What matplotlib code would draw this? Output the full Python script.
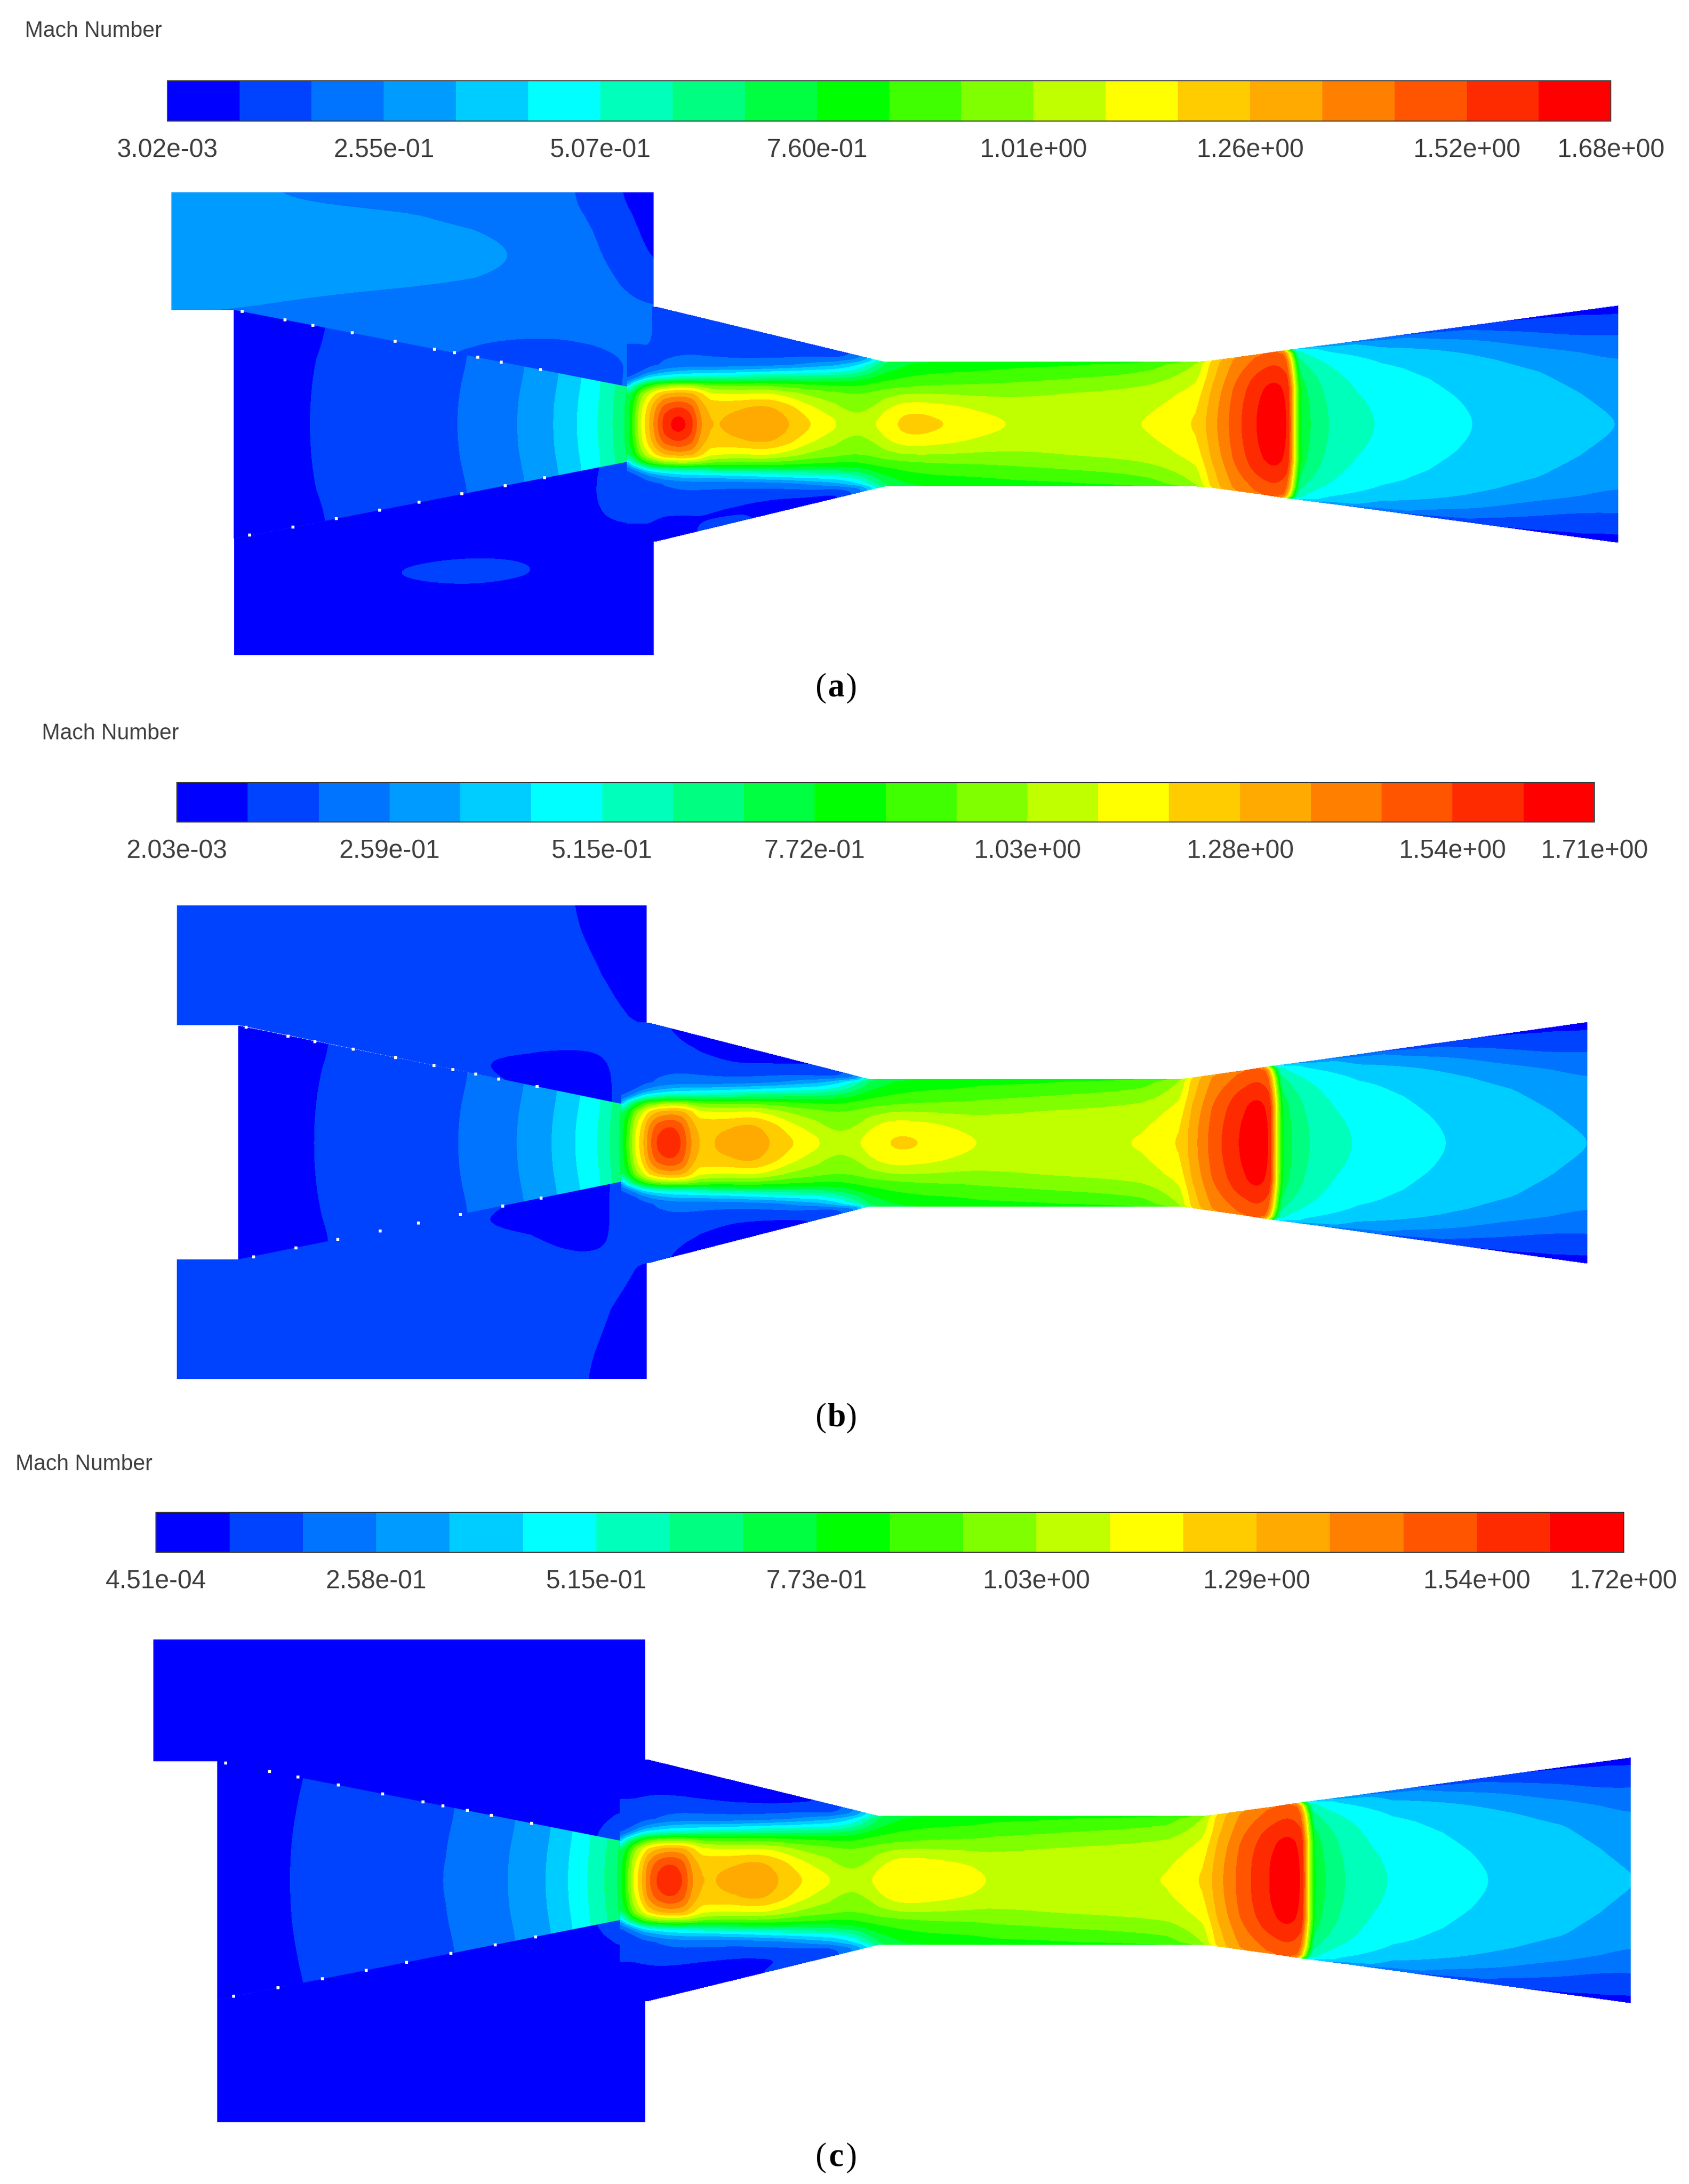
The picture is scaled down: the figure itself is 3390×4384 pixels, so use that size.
import numpy as np
import matplotlib
matplotlib.use('Agg')
import matplotlib.pyplot as plt
from matplotlib.colors import ListedColormap, BoundaryNorm
from matplotlib.cm import ScalarMappable
from matplotlib.patches import Polygon

BAND_COLORS = ['#0000ff', '#0043ff', '#0073ff', '#009bff', '#00cdff', '#00ffff', '#00ffbb', '#00ff80',
               '#00ff40', '#00ff00', '#40ff00', '#80ff00', '#bfff00', '#ffff00', '#ffcc00', '#ffaa00',
               '#ff8000', '#ff5500', '#ff2b00', '#ff0000']
TICK_BANDS = [0, 3, 6, 9, 12, 15, 18, 20]

TICKS_A = ['3.02e-03', '2.55e-01', '5.07e-01', '7.60e-01', '1.01e+00', '1.26e+00', '1.52e+00', '1.68e+00']
TICKS_B = ['2.03e-03', '2.59e-01', '5.15e-01', '7.72e-01', '1.03e+00', '1.28e+00', '1.54e+00', '1.71e+00']
TICKS_C = ['4.51e-04', '2.58e-01', '5.15e-01', '7.73e-01', '1.03e+00', '1.29e+00', '1.54e+00', '1.72e+00']
RANGE_A = (3.02e-03, 1.68)
RANGE_B = (2.03e-03, 1.71)
RANGE_C = (4.51e-04, 1.72)

# jet stations along the duct, exit of the nozzle to the outlet
STATIONS_A = [450, 455, 460, 465, 471, 477, 487, 496, 502, 510, 532, 546, 560, 578, 599, 608, 617, 626, 635,
              650, 670, 700, 731, 780, 824, 858, 870, 885, 905, 921, 926, 931, 960, 991, 1053, 1110, 1161]
STATIONS_B = [446, 451, 456, 461, 466, 472, 481, 489, 495, 502, 524, 537, 549, 566, 587, 596, 605, 615, 624,
              640, 660, 685, 707, 760, 819, 846, 856, 870, 893, 908, 913, 918, 946, 974, 1033, 1090, 1139]
STATIONS_C = [445, 450, 455, 460, 465, 472, 481, 490, 496, 504, 528, 541, 555, 573, 595, 604, 613, 622, 631,
              646, 667, 697, 714, 770, 837, 863, 874, 890, 914, 931, 936, 941, 972, 999, 1062, 1125, 1170]

# Mach on the axis
AXIS_A = [.70, .90, 1.12, 1.24, 1.42, 1.58, 1.70, 1.58, 1.38, 1.24, 1.30, 1.37, 1.31, 1.22, 1.12, 1.07, 1.05, 1.11,
          1.15, 1.23, 1.22, 1.14, 1.09, 1.06, 1.10, 1.19, 1.31, 1.46, 1.64, 1.67, 1.10, .70, .55, .507, .423, .385, .335]
AXIS_B = [.71, .92, 1.14, 1.26, 1.44, 1.58, 1.63, 1.56, 1.40, 1.26, 1.31, 1.35, 1.31, 1.24, 1.14, 1.09, 1.07, 1.13,
          1.17, 1.22, 1.22, 1.16, 1.11, 1.08, 1.12, 1.21, 1.33, 1.49, 1.67, 1.70, 1.12, .71, .56, .516, .431, .392, .341]
AXIS_C = [.71, .92, 1.15, 1.27, 1.45, 1.59, 1.64, 1.57, 1.41, 1.27, 1.32, 1.37, 1.32, 1.24, 1.14, 1.09, 1.07, 1.13,
          1.16, 1.21, 1.22, 1.16, 1.11, 1.08, 1.12, 1.22, 1.34, 1.49, 1.67, 1.71, 1.13, .72, .56, .519, .433, .394, .343]

# Mach off the axis, one line per station: r12, r22, r28, r33, r38, r43, mid, wall
OFF_AXIS = [
    [.70, .68, .30, .15, .13, .13, .12, .10],
    [.86, .78, .55, .20, .13, .13, .12, .10],
    [1.08, .98, .70, .30, .15, .13, .12, .10],
    [1.20, 1.08, .82, .42, .20, .14, .12, .10],
    [1.36, 1.20, .90, .48, .25, .15, .12, .10],
    [1.48, 1.27, .96, .50, .30, .17, .12, .09],
    [1.54, 1.31, 1.00, .55, .34, .19, .11, .08],
    [1.47, 1.29, .99, .55, .36, .20, .11, .07],
    [1.32, 1.23, .96, .56, .36, .20, .11, .07],
    [1.23, 1.10, .92, .58, .36, .20, .11, .07],
    [1.27, 1.08, .90, .62, .38, .20, .10, .06],
    [1.30, 1.10, .91, .64, .40, .21, .09, .06],
    [1.26, 1.08, .89, .65, .42, .22, .10, .07],
    [1.13, .99, .86, .66, .44, .26, .12, .08],
    [1.02, .95, .83, .68, .47, .32, .15, .10],
    [.99, .93, .83, .70, .50, .36, .22, .12],
    [.98, .93, .83, .72, .56, .42, .30, .20],
    [1.00, .94, .86, .77, .66, .55, .45, .40],
    [1.07, .97, .88, .81, .74, .68, .68, .68],
    [1.16, 1.00, .90, .85, .80, .75, .74, .72],
    [1.14, 1.00, .92, .87, .83, .79, .78, .76],
    [1.08, .99, .93, .88, .84, .80, .79, .77],
    [1.05, .99, .94, .90, .86, .82, .81, .79],
    [1.05, 1.02, .97, .93, .88, .83, .82, .80],
    [1.07, 1.04, 1.00, .96, .92, .87, .85, .83],
    [1.16, 1.12, 1.09, 1.06, 1.03, 1.00, .98, .95],
    [1.30, 1.28, 1.26, 1.24, 1.23, 1.21, 1.20, 1.19],
    [1.45, 1.43, 1.41, 1.39, 1.37, 1.35, 1.34, 1.33],
    [1.63, 1.61, 1.58, 1.54, 1.49, 1.45, 1.44, 1.43],
    [1.66, 1.64, 1.60, 1.56, 1.52, 1.49, 1.47, 1.46],
    [1.10, 1.10, 1.10, 1.10, 1.08, 1.05, 1.00, .95],
    [.69, .67, .64, .60, .55, .47, .43, .38],
    [.54, .52, .50, .475, .44, .36, .30, .25],
    [.49, .46, .44, .42, .37, .30, .24, .18],
    [.41, .39, .37, .335, .27, .15, .12, .09],
    [.37, .335, .29, .22, .15, .09, .085, .07],
    [.31, .257, .22, .168, .11, .07, .065, .05],
]
ROW_ETA = [.27, .49, .63, .74, .85, .96]
SHOCK_BOW = [3, 3, 3, 2.5, 2, 1.5, 0, -1, -2]

# blue outer rows of the converging part differ per case
OUTER_X = [0, 15, 25, 50, 80, 110, 150, 175]
OUTER_UP_MID_A = [.19, .19, .13, .12, .10, .11, .15, .35]
OUTER_UP_WALL_A = [.19, .19, .12, .11, .11, .09, .07, .30]
OUTER_DN_MID_A = [.11, .11, .09, .08, .07, .07, .10, .30]
OUTER_DN_WALL_A = [.05, .05, .05, .09, .10, .07, .06, .30]
OUTER_UP_MID_B = [.13, .13, .12, .10, .07, .09, .13, .35]
OUTER_UP_WALL_B = [.13, .12, .09, .07, .06, .07, .09, .30]
OUTER_DN_MID_B = [.13, .13, .12, .10, .07, .08, .12, .35]
OUTER_DN_WALL_B = [.12, .11, .09, .07, .06, .06, .10, .30]
OUTER_UP_MID_C = [.06, .06, .06, .055, .05, .07, .12, .35]
OUTER_UP_WALL_C = [.05, .05, .05, .05, .05, .06, .09, .30]
OUTER_DN_MID_C = [.06, .06, .06, .055, .05, .07, .12, .35]
OUTER_DN_WALL_C = [.05, .05, .05, .05, .06, .10, .12, .30]

# primary cone
PRIMARY_X_A = [168, 227, 328, 371, 397, 414, 430, 445, 450]
PRIMARY_X_B = [171, 231, 329, 371, 396, 413, 430, 442, 446]
PRIMARY_X_C = [156, 215, 320, 365, 392, 408, 423, 440, 445]
PRIMARY_AXIS = [.04, .087, .171, .255, .339, .423, .507, .64, .70]
PRIMARY_MID = [.04, .084, .167, .250, .334, .418, .503, .635, .70]
PRIMARY_WALL = [.04, .075, .155, .235, .315, .40, .49, .62, .68]

# secondary stream, case a
UP_X_A = [123, 170, 230, 290, 340, 370, 400, 425, 445, 469]
UP_Y_A = [138, 155, 180, 200, 222, 240, 255, 270, 280]
UP_MACH_A = [
    [.28, .265, .235, .22, .21, .20, .19, .15, .083, .05],
    [.29, .285, .275, .262, .235, .21, .19, .165, .10, .06],
    [.30, .30, .295, .29, .285, .26, .22, .19, .13, .07],
    [.29, .285, .28, .27, .258, .235, .21, .20, .171, .087],
    [.26, .255, .235, .22, .21, .20, .19, .19, .20, .19],
    [.22, .22, .22, .20, .19, .18, .18, .19, .20, .19],
    [.20, .20, .20, .20, .15, .14, .14, .15, .17, .18],
    [.20, .20, .20, .20, .15, .14, .15, .16, .17, .18],
    [.20, .20, .20, .20, .15, .14, .15, .16, .17, .18],
]
DN_X_A = [168, 243, 287, 335, 382, 420, 435, 455, 469]
DN_Y_A = [330, 345, 360, 375, 390, 400, 412, 425, 470]
DN_MACH_A = [
    [.05, .05, .05, .05, .05, .05, .10, .12, .10],
    [.05, .05, .05, .05, .05, .06, .11, .12, .10],
    [.05, .05, .05, .05, .05, .06, .11, .12, .09],
    [.05, .05, .05, .05, .05, .05, .08, .095, .07],
    [.05, .05, .05, .05, .05, .05, .05, .05, .05],
    [.05, .05, .07, .09, .085, .05, .05, .05, .05],
    [.05, .05, .10, .11, .095, .05, .05, .05, .05],
    [.05, .05, .06, .075, .055, .05, .05, .05, .05],
    [.05, .05, .05, .05, .05, .05, .05, .05, .05],
]

# secondary stream, case b
UP_X_B = [127, 314, 380, 409, 427, 446, 464]
UP_Y_B = [650, 700, 730, 745, 760, 775, 792]
UP_MACH_B = [
    [.13, .13, .12, .09, .05, .05, .05],
    [.13, .13, .13, .12, .10, .06, .05],
    [.13, .13, .13, .13, .12, .095, .07],
    [.13, .12, .12, .12, .12, .12, .10],
    [.13, .10, .07, .06, .07, .11, .13],
    [.13, .12, .07, .05, .05, .11, .12],
    [.13, .13, .10, .06, .05, .11, .11],
]
DN_X_B = [127, 314, 380, 409, 427, 446, 464]
DN_Y_B = [848, 865, 880, 895, 910, 940, 990]
DN_MACH_B = [
    [.13, .13, .11, .06, .06, .11, .11],
    [.13, .12, .07, .05, .06, .11, .12],
    [.13, .10, .07, .05, .06, .11, .12],
    [.13, .13, .11, .07, .07, .11, .12],
    [.13, .13, .13, .13, .13, .11, .07],
    [.13, .13, .13, .13, .11, .07, .05],
    [.13, .13, .13, .11, .07, .05, .05],
]

# secondary stream, case c
UP_X_C = [110, 400, 438, 463]
UP_Y_C = [1177, 1290, 1303, 1322]
UP_MACH_C = [
    [.04, .04, .04, .04],
    [.04, .04, .04, .05],
    [.04, .04, .09, .11],
    [.04, .04, .11, .13],
]
DN_X_C = [110, 400, 438, 463]
DN_Y_C = [1378, 1395, 1410, 1524]
DN_MACH_C = [
    [.04, .04, .11, .13],
    [.04, .04, .09, .11],
    [.04, .04, .04, .05],
    [.04, .04, .04, .04],
]

# white specks along the nozzle walls, fraction of the wall length
SPECKS_UP = [.02, .13, .20, .30, .41, .51, .56, .62, .68, .78]
SPECKS_DN = [.04, .15, .26, .37, .47, .58, .69, .79]

W, H = 1212, 1568
fig = plt.figure(figsize=(33.9, 43.84), dpi=100)
ax = fig.add_axes([0, 0, 1, 1])
ax.set_xlim(0, W)
ax.set_ylim(H, 0)
ax.axis('off')


def fine(a, n=8):
    a = np.asarray(a, dtype=float)
    ri = np.linspace(0, a.shape[0] - 1, (a.shape[0] - 1) * n + 1)
    ci = np.linspace(0, a.shape[1] - 1, (a.shape[1] - 1) * n + 1)
    a = np.array([np.interp(ci, np.arange(a.shape[1]), row) for row in a])
    return np.array([np.interp(ri, np.arange(len(col)), col) for col in a.T]).T


def soften(a, w=3, passes=2):
    for _ in range(passes):
        p = np.pad(a, w, mode='edge')
        k = np.ones(2 * w + 1) / (2 * w + 1)
        p = np.apply_along_axis(lambda m: np.convolve(m, k, mode='same'), 0, p)
        p = np.apply_along_axis(lambda m: np.convolve(m, k, mode='same'), 1, p)
        a = p[w:-w, w:-w]
    return a


def fill(X, Y, Z, cmap, norm, levels, clip=None):
    cs = ax.contourf(fine(X), fine(Y), soften(fine(Z)), levels=levels, cmap=cmap, norm=norm,
                     extend='both', antialiased=False)
    if clip is not None:
        patch = Polygon(clip, closed=True, transform=ax.transData, fill=False, edgecolor='none')
        ax.add_patch(patch)
        cs.set_clip_path(patch)


def draw_panel(p):
    vmin, vmax = p['range']
    levels = np.linspace(vmin, vmax, 21)
    cmap = ListedColormap(BAND_COLORS)
    cmap.set_under(BAND_COLORS[0])
    cmap.set_over(BAND_COLORS[-1])
    norm = BoundaryNorm(levels, 20)
    ratio = vmax / RANGE_A[1]

    # title and colour bar, the bar keeps its own norm so contourf does not reset its ticks
    ax.text(p['title'][0], p['title'][1] + 1.5, 'Mach Number', family='Liberation Sans', fontsize=31.5,
            color='#3f3f3f', ha='left', va='center')
    bx0, bx1, by0, by1 = p['bar']
    cax = fig.add_axes([bx0 / W, 1 - by1 / H, (bx1 - bx0) / W, (by1 - by0) / H])
    cb = fig.colorbar(ScalarMappable(norm=BoundaryNorm(levels, 20), cmap=cmap), cax=cax,
                      orientation='horizontal', spacing='uniform')
    cb.set_ticks(levels[TICK_BANDS], labels=p['ticks'])
    cb.minorticks_off()
    cax.tick_params(axis='x', length=0, pad=25, labelsize=37, labelcolor='#3f3f3f',
                    labelfontfamily='Liberation Sans')
    cb.outline.set_edgecolor('#404040')
    cb.outline.set_linewidth(1.5)

    # geometry
    yc = p['yc']
    xe, xb, xt, xd, xo = p['xe'], p['xb'], p['xt'], p['xd'], p['xo']
    hb, ht, ho = p['hb'], p['ht'], p['ho']
    xl, he, hl = p['cone']

    # primary cone
    px = np.array(p['primary_x'], dtype=float)
    ph = np.interp(px, [xl, xe], [hl, he])
    rows = [-1, -.5, 0, .5, 1]
    PX = np.array([px for _ in rows])
    PY = np.array([yc + e * ph for e in rows])
    PZ = np.array([PRIMARY_WALL, PRIMARY_MID, PRIMARY_AXIS, PRIMARY_MID, PRIMARY_WALL]) * ratio
    fill(PX, PY, PZ, cmap, norm, levels)

    # secondary stream
    for x_, y_, z_, clip in (p['upper'], p['lower']):
        XX, YY = np.meshgrid(x_, y_)
        fill(XX, YY, np.array(z_), cmap, norm, levels, clip)

    # jet through the duct
    st = np.array(p['stations'], dtype=float)
    h = np.interp(st, [xb, xt, xd, xo], [hb, ht, ht, ho])
    grow = np.where(st > xd, h / ht, 1.0)
    off = np.array(OFF_AXIS) * ratio
    up = off.copy()
    dn = off.copy()
    near = st - st[0] < OUTER_X[-1]
    up[near, 6] = np.interp(st[near] - st[0], OUTER_X, p['out_up_mid'])
    up[near, 7] = np.interp(st[near] - st[0], OUTER_X, p['out_up_wall'])
    dn[near, 6] = np.interp(st[near] - st[0], OUTER_X, p['out_dn_mid'])
    dn[near, 7] = np.interp(st[near] - st[0], OUTER_X, p['out_dn_wall'])
    radii = [np.array(e) * ht * grow for e in ROW_ETA]
    radii.append((radii[-1] + h) / 2)
    radii.append(h)
    axis = np.array(p['axis'])

    ys = [yc - r for r in reversed(radii)] + [yc + 0 * st] + [yc + r for r in radii]
    zs = [up[:, i] for i in range(7, -1, -1)] + [axis] + [dn[:, i] for i in range(8)]
    bow = np.zeros((17, len(st)))
    rows_bow = list(reversed(SHOCK_BOW[1:])) + SHOCK_BOW
    for i in (29, 30, 31):
        bow[:, i] = rows_bow
    xs = np.array([st for _ in ys]) + bow
    fill(xs, np.array(ys), np.array(zs), cmap, norm, levels)

    # white specks on the nozzle walls
    sx = xl + np.array(SPECKS_UP) * (xe - xl)
    sy = yc - np.interp(sx, [xl, xe], [hl, he])
    ax.scatter(sx, sy, s=16, c='white', marker='s', linewidths=0, zorder=5)
    sx = xl + np.array(SPECKS_DN) * (xe - xl)
    sy = yc + np.interp(sx, [xl, xe], [hl, he])
    ax.scatter(sx, sy, s=16, c='white', marker='s', linewidths=0, zorder=5)

    # caption
    cx, cy = p['caption']
    ax.text(cx - 7, cy, '(', family='Liberation Serif', fontsize=48, ha='right', va='center', color='black')
    ax.text(cx, cy, p['letter'], family='Liberation Serif', fontsize=48, weight='bold', ha='center', va='center',
            color='black')
    ax.text(cx + 7, cy, ')', family='Liberation Serif', fontsize=48, ha='left', va='center', color='black')


panels = [
    dict(range=RANGE_A, ticks=TICKS_A, title=(18, 21), bar=(120, 1156, 58, 87), letter='a', caption=(600, 494),
         yc=304.5, xe=450, xb=469, xt=635, xd=862, xo=1161.5, hb=84.5, ht=44.5, ho=85, cone=(168, 27, 82),
         primary_x=PRIMARY_X_A, stations=STATIONS_A, axis=AXIS_A,
         out_up_mid=OUTER_UP_MID_A, out_up_wall=OUTER_UP_WALL_A, out_dn_mid=OUTER_DN_MID_A, out_dn_wall=OUTER_DN_WALL_A,
         upper=(UP_X_A, UP_Y_A, UP_MACH_A, [(123, 138), (469, 138), (469, 277.5), (450, 277.5), (168, 222.5), (123, 222.5)]),
         lower=(DN_X_A, DN_Y_A, DN_MACH_A, [(450, 331.5), (469, 331.5), (469, 470.5), (168, 470.5), (168, 386.5)])),
    dict(range=RANGE_B, ticks=TICKS_B, title=(30, 525), bar=(127, 1144, 562, 590), letter='b', caption=(600, 1018),
         yc=820.5, xe=446, xb=464, xt=624, xd=847, xo=1139, hb=86.5, ht=45.5, ho=86.5, cone=(171, 28, 84),
         primary_x=PRIMARY_X_B, stations=STATIONS_B, axis=AXIS_B,
         out_up_mid=OUTER_UP_MID_B, out_up_wall=OUTER_UP_WALL_B, out_dn_mid=OUTER_DN_MID_B, out_dn_wall=OUTER_DN_WALL_B,
         upper=(UP_X_B, UP_Y_B, UP_MACH_B, [(127, 650), (464, 650), (464, 792.5), (446, 792.5), (171, 736), (127, 736)]),
         lower=(DN_X_B, DN_Y_B, DN_MACH_B, [(446, 848.5), (464, 848.5), (464, 990.5), (127, 990.5), (127, 904), (171, 904)])),
    dict(range=RANGE_C, ticks=TICKS_C, title=(11, 1050), bar=(112, 1165, 1086, 1114.5), letter='c', caption=(600, 1549),
         yc=1350, xe=445, xb=463, xt=631, xd=864, xo=1170.5, hb=87, ht=46, ho=88, cone=(156, 28.5, 85.5),
         primary_x=PRIMARY_X_C, stations=STATIONS_C, axis=AXIS_C,
         out_up_mid=OUTER_UP_MID_C, out_up_wall=OUTER_UP_WALL_C, out_dn_mid=OUTER_DN_MID_C, out_dn_wall=OUTER_DN_WALL_C,
         upper=(UP_X_C, UP_Y_C, UP_MACH_C, [(110, 1177), (463, 1177), (463, 1321.5), (445, 1321.5), (156, 1264.5), (110, 1264.5)]),
         lower=(DN_X_C, DN_Y_C, DN_MACH_C, [(445, 1378.5), (463, 1378.5), (463, 1523.5), (156, 1523.5), (156, 1435.5)])),
]

for panel in panels:
    draw_panel(panel)

fig.savefig('out.png', dpi=100, facecolor='white')
